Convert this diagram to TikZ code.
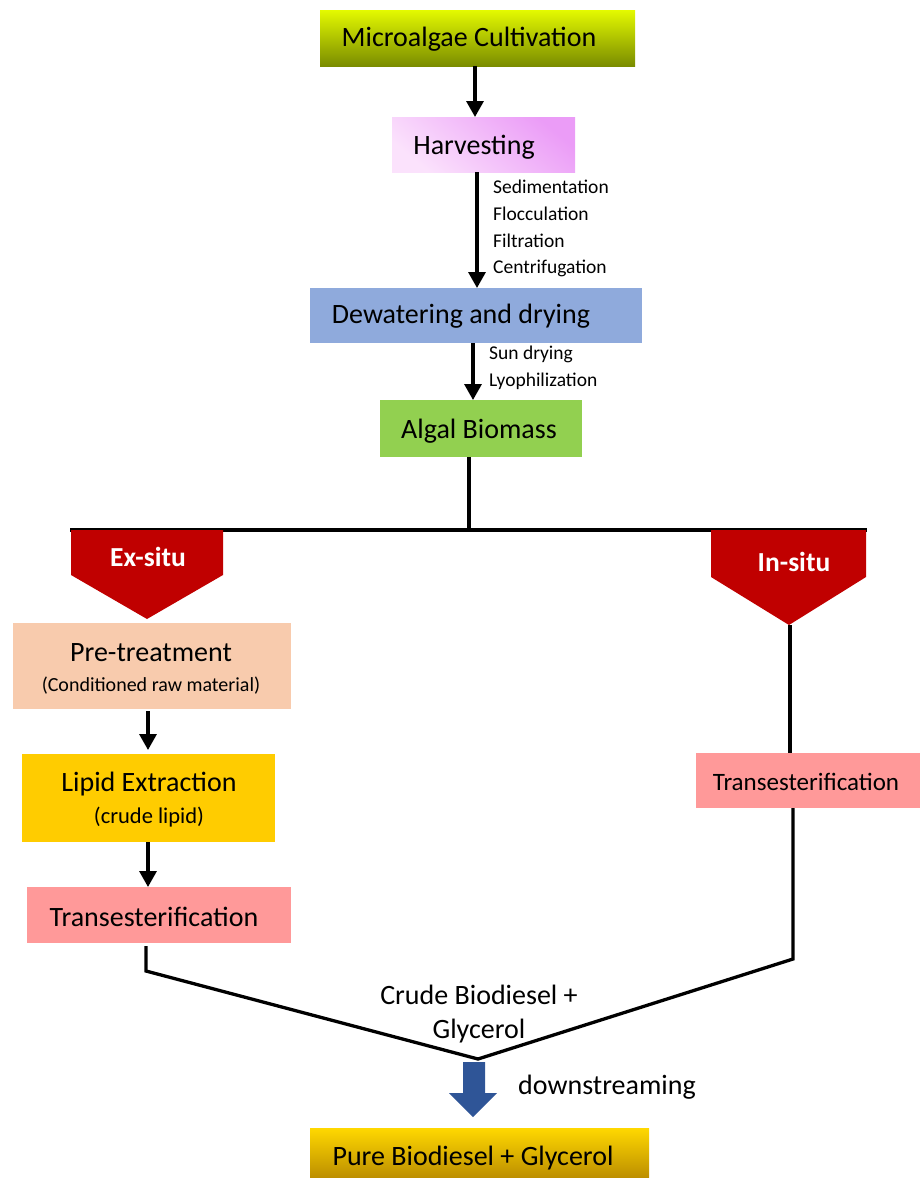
\documentclass[tikz,border=0pt]{standalone}
\usepackage{fontspec}
\setmainfont{Carlito}[BoldFont={Carlito Bold}]
\usetikzlibrary{arrows.meta}
\definecolor{cultTop}{HTML}{E4FA00}
\definecolor{cultBot}{HTML}{7A8C00}
\definecolor{harvA}{HTML}{EB9CF7}
\definecolor{harvB}{HTML}{FBE2FC}
\definecolor{dewC}{HTML}{8FAADC}
\definecolor{bioC}{HTML}{92D050}
\definecolor{redC}{HTML}{C00000}
\definecolor{preC}{HTML}{F8CBAD}
\definecolor{lipC}{HTML}{FFCC00}
\definecolor{transC}{HTML}{FF9999}
\definecolor{blueC}{HTML}{2F5597}
\definecolor{pureTop}{HTML}{FFD800}
\definecolor{pureBot}{HTML}{BC8E00}
\tikzset{
  box/.style={draw=none, inner sep=0pt, outer sep=0pt},
  big/.style={inner sep=0pt, font=\fontsize{28}{34}\selectfont},
  mid/.style={inner sep=0pt, font=\fontsize{25}{30}\selectfont},
  small/.style={inner sep=0pt, anchor=west, font=\fontsize{19.5}{24}\selectfont},
  situ/.style={inner sep=0pt, text=white, font=\bfseries\fontsize{27.5}{32}\selectfont},
  flow/.style={line width=3.3pt, -{Triangle[length=16pt,width=17pt]}},
  plain/.style={line width=3.3pt}
}
\begin{document}
\begin{tikzpicture}[x=1pt,y=-1pt]
\useasboundingbox (0,0) rectangle (920,1178);
% boxes
\node[box, minimum width=315pt, minimum height=56pt, top color=cultTop, bottom color=cultBot] (cult) at (477.5,38) {};
\node[big] (cultT) at (469,39) {Microalgae Cultivation};
\node[box, minimum width=183pt, minimum height=55pt, top color=harvA, bottom color=harvB, shading angle=-40] (harv) at (483.5,144.5) {};
\node[big] (harvT) at (474,147) {Harvesting};
\node[box, minimum width=332pt, minimum height=55pt, fill=dewC] (dew) at (476,315.5) {};
\node[big] (dewT) at (461,316) {Dewatering and drying};
\node[box, minimum width=202pt, minimum height=57pt, fill=bioC] (bio) at (481,428.5) {};
\node[big] (bioT) at (479,431) {Algal Biomass};
% labels on arrows
\node[small] (l1) at (493,187) {Sedimentation};
\node[small] (l2) at (493,214) {Flocculation};
\node[small] (l3) at (493,241) {Filtration};
\node[small] (l4) at (493,268) {Centrifugation};
\node[small] (l5) at (489,354) {Sun drying};
\node[small] (l6) at (489,381) {Lyophilization};
% arrows top
\draw[flow] (475,66) -- (475,117);
\draw[flow] (477,172) -- (477,288);
\draw[flow] (473,343) -- (473,400);
% split
\coordinate (split) at (469,531);
\draw[plain] (469,457) -- (split);
\draw[plain] (70,530) -- (867,530);
\fill[redC] (71,530) -- (223,530) -- (223,575) -- (147,619) -- (71,575) -- cycle;
\node[situ] (ex) at (148,557) {Ex-situ};
\fill[redC] (711,530) -- (866,530) -- (866,577) -- (789,625) -- (711,577) -- cycle;
\node[situ] (in) at (794,562) {In-situ};
% left branch
\node[box, minimum width=278pt, minimum height=86pt, fill=preC] (pre) at (152,666) {};
\node[big] (preT) at (151,653) {Pre-treatment};
\node[inner sep=0pt, font=\fontsize{20}{24}\selectfont] (preS) at (151,686) {(Conditioned raw material)};
\node[box, minimum width=253pt, minimum height=88pt, fill=lipC] (lip) at (148.5,798) {};
\node[big] (lipT) at (149,784) {Lipid Extraction};
\node[inner sep=0pt, font=\fontsize{22.5}{27}\selectfont] (lipS) at (149,817) {(crude lipid)};
\node[box, minimum width=264pt, minimum height=56pt, fill=transC] (trL) at (159,915) {};
\node[big] (trLT) at (154,917) {Transesterification};
\draw[flow] (148,711) -- (148,750);
\draw[flow] (148,842) -- (148,887);
% right branch
\node[box, minimum width=224pt, minimum height=55pt, fill=transC] (trR) at (808,780.5) {};
\node[mid] (trRT) at (806,782) {Transesterification};
\coordinate (inTip) at (790,625);
\draw[plain] (inTip) -- (790,753);
% merge
\coordinate (mL) at (146,946);
\coordinate (mR) at (793,808);
\coordinate (vtx) at (478,1059);
\draw[plain] (mL) -- (146,971) -- (vtx) -- (793,959) -- (mR);
\node[big] (crude) at (479,995) {Crude Biodiesel +};
\node[big] (gly) at (479,1031) {Glycerol};
% blue arrow
\fill[blueC] (463,1062) -- (485,1062) -- (485,1093) -- (497,1093) -- (473,1117) -- (449,1093) -- (463,1093) -- cycle;
\node[big, anchor=west] (down) at (518,1087) {downstreaming};
% final
\node[box, minimum width=339pt, minimum height=50pt, top color=pureTop, bottom color=pureBot] (pure) at (479.5,1153) {};
\node[big] (pureT) at (473,1158) {Pure Biodiesel + Glycerol};
\end{tikzpicture}
\end{document}
